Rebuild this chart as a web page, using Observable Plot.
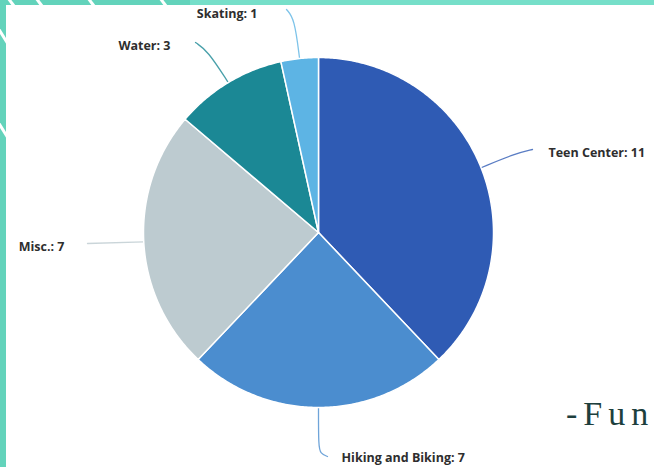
<!DOCTYPE html>
<html>
<head>
<meta charset="utf-8">
<script src="https://cdn.jsdelivr.net/npm/d3@7"></script>
<script src="https://cdn.jsdelivr.net/npm/@observablehq/plot@0.6"></script>
<style>
  html, body { margin: 0; padding: 0; background: #fff; overflow: hidden; }
  #wrap { position: relative; width: 654px; height: 467px; overflow: hidden; background: #fff; }
  #chart { position: absolute; left: 0; top: 0; }
  .strip { position: absolute; background: #63d3bb; }
</style>
</head>
<body>
<div id="wrap">
  <div id="chart"></div>
  <div class="strip" style="left:0;top:0;width:6px;height:467px;"></div>
  <div class="strip" style="left:0;top:0;width:190px;height:5px;"></div>
  <div class="strip" style="left:190px;top:0;width:464px;height:5px;background:#76dfc9;"></div>
  <svg style="position:absolute;left:0;top:0" width="654" height="467">
    <g stroke="#fff" stroke-width="3">
      <line x1="8" y1="-2" x2="14" y2="6"/>
      <line x1="36" y1="-2" x2="42" y2="6"/>
      <line x1="88" y1="-2" x2="94" y2="6"/>
      <line x1="160" y1="-2" x2="166" y2="6"/>
      <line x1="-2" y1="28" x2="8" y2="44"/>
      <line x1="-2" y1="122" x2="8" y2="138"/>
    </g>
    <text x="566" y="425" font-family="Liberation Serif, DejaVu Serif, serif" font-size="34" fill="#1d3f3d" letter-spacing="6">-Fun</text>
  </svg>
</div>
<script>
// ---- data ----
const categories = ["Teen Center", "Hiking and Biking", "Misc.", "Water", "Skating"];
const counts = [11, 7, 7, 3, 1];
const colors = ["#2f5bb4", "#4b8dcf", "#bdcbd0", "#1b8895", "#5db4e4"];

// ---- layout ----
const W = 654, H = 467;
const cx = 318, cy = 232, R = 175;
const labelLayout = {
  "Teen Center":       {via: [[515, 153]], end: [532, 149], tx: 548, ty: 152, anchor: "start"},
  "Hiking and Biking": {via: [[318, 446], [320, 453]], end: [327, 456], tx: 341, ty: 457, anchor: "start"},
  "Misc.":             {via: [], end: [87, 243], tx: 64, ty: 246, anchor: "end"},
  "Water":             {via: [[207, 50]], end: [195, 42], tx: 170, ty: 45, anchor: "end"},
  "Skating":           {via: [[294, 18]], end: [286, 9], tx: 257, ty: 13, anchor: "end"}
};

const data = categories.map((c, i) => ({name: c, value: counts[i]}));
const pie = d3.pie().sort(null).value(d => d.value)(data);

const pt = (a, r) => [cx + r * Math.sin(a), cy - r * Math.cos(a)];

const slicePts = [];
pie.forEach(p => {
  const n = Math.max(4, Math.ceil((p.endAngle - p.startAngle) / 0.01));
  slicePts.push({name: p.data.name, x: cx, y: cy});
  for (let k = 0; k <= n; k++) {
    const a = p.startAngle + (p.endAngle - p.startAngle) * k / n;
    const [x, y] = pt(a, R);
    slicePts.push({name: p.data.name, x, y});
  }
  slicePts.push({name: p.data.name, x: cx, y: cy});
});

const leaderPts = [];
const labels = [];
pie.forEach(p => {
  const L = labelLayout[p.data.name];
  const mid = (p.startAngle + p.endAngle) / 2;
  const [sx, sy] = pt(mid, R);
  leaderPts.push({name: p.data.name, x: sx, y: sy});
  L.via.forEach(v => leaderPts.push({name: p.data.name, x: v[0], y: v[1]}));
  leaderPts.push({name: p.data.name, x: L.end[0], y: L.end[1]});
  labels.push({name: p.data.name, text: `${p.data.name}: ${p.data.value}`, x: L.tx, y: L.ty, anchor: L.anchor});
});

const textStyle = {x: "x", y: "y", text: "text", fill: "#2e2e2e", fontSize: 12.5, fontWeight: "bold",
  fontFamily: "Open Sans, Lato, sans-serif"};

const plot = Plot.plot({
  width: W, height: H,
  margin: 0,
  x: {domain: [0, W], range: [0, W], axis: null},
  y: {domain: [0, H], range: [0, H], axis: null},
  color: {domain: categories, range: colors},
  style: {background: "transparent"},
  marks: [
    Plot.line(leaderPts, {x: "x", y: "y", z: "name", stroke: "name", strokeWidth: 1.3, curve: "basis", strokeOpacity: 0.8}),
    Plot.line(slicePts, {x: "x", y: "y", z: "name", fill: "name", stroke: "white", strokeWidth: 1.5, curve: "linear"}),
    Plot.text(labels.filter(d => d.anchor === "start"), {...textStyle, textAnchor: "start"}),
    Plot.text(labels.filter(d => d.anchor === "end"), {...textStyle, textAnchor: "end"})
  ]
});
document.getElementById("chart").appendChild(plot);
</script>
</body>
</html>
